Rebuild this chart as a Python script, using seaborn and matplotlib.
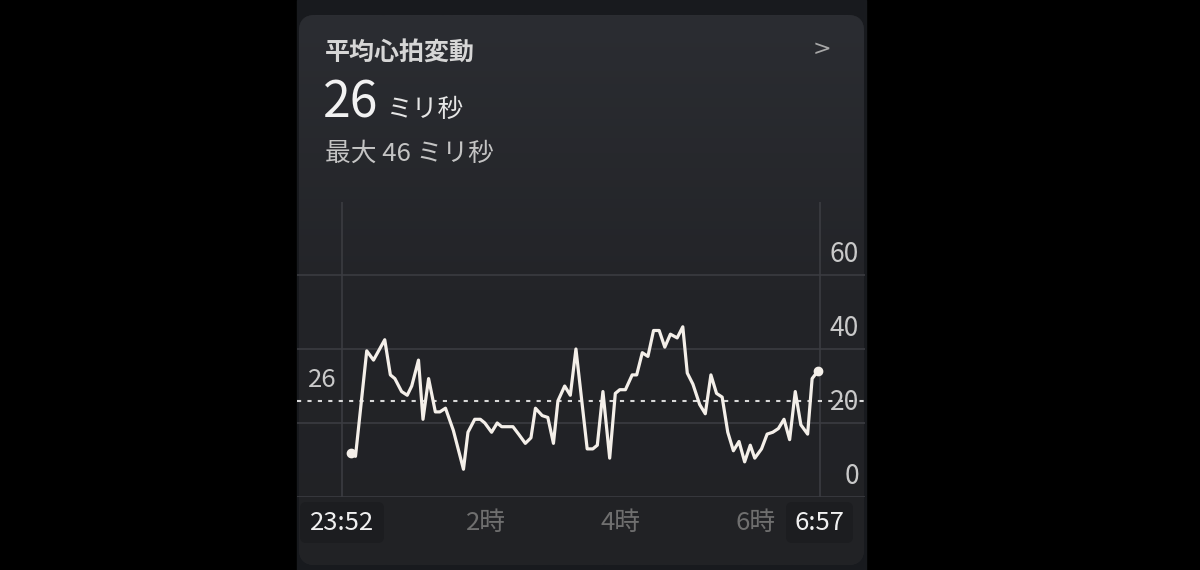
import numpy as np
import pandas as pd
import matplotlib.pyplot as plt
import seaborn as sns
from matplotlib.patches import FancyBboxPatch, Rectangle
from matplotlib.colors import LinearSegmentedColormap

# readings (clock time, ms)
times = ["00:00", "00:04", "00:14", "00:20", "00:30", "00:35", "00:39", "00:45", "00:50", "00:54",
         "01:00", "01:04", "01:09", "01:15", "01:19", "01:24", "01:31", "01:40", "01:44", "01:50",
         "01:55", "01:59", "02:05", "02:10", "02:14", "02:19", "02:24", "02:29", "02:35", "02:40",
         "02:44", "02:50", "02:55", "03:00", "03:04", "03:10", "03:15", "03:20", "03:30", "03:35",
         "03:39", "03:44", "03:50", "03:55", "03:59", "04:04", "04:10", "04:14", "04:19", "04:24",
         "04:29", "04:34", "04:39", "04:44", "04:50", "04:55", "04:59", "05:04", "05:10", "05:15",
         "05:20", "05:25", "05:30", "05:35", "05:40", "05:45", "05:50", "05:55", "05:59", "06:05",
         "06:10", "06:15", "06:20", "06:25", "06:30", "06:35", "06:40", "06:46", "06:50", "06:55"]
hrv = [12, 11, 39.5, 37, 42.5, 33, 32, 28.5, 27.5, 30,
       37, 21, 32, 23, 23, 24, 18, 7.5, 17.5, 21,
       21, 20, 17.5, 20, 19, 19, 19, 17, 14.5, 16,
       24, 22, 21.5, 14.5, 26, 30, 27.5, 40, 13, 13,
       14, 28.5, 10.5, 28, 29, 29, 33, 33, 39, 38,
       45, 45, 40.5, 44, 43, 46, 33.5, 30.5, 25, 22.5,
       33, 28, 27, 17.5, 12.5, 15, 9.5, 14, 10.5, 13,
       17, 17.5, 18.5, 21, 15.5, 28.5, 19.5, 17, 32, 34]

start_time = "23:52"
end_time = "6:57"
avg_hrv = 26
max_hrv = 46
y_ticks = [0, 20, 40, 60]
hour_ticks = ["2:00", "4:00", "6:00"]
hour_labels = ["2時", "4時", "6時"]


def minutes_since_start(t):
    h, m = map(int, t.split(":"))
    s_h, s_m = map(int, start_time.split(":"))
    mins = h * 60 + m - (s_h * 60 + s_m)
    if mins < 0:
        mins += 24 * 60
    return mins


df = pd.DataFrame({"t": [minutes_since_start(t) for t in times], "hrv": hrv})
t_end = minutes_since_start(end_time)

sns.set_theme(style="dark")
plt.rcParams["font.family"] = ["Noto Sans CJK JP", "DejaVu Sans"]

fig = plt.figure(figsize=(12, 5.7), dpi=100, facecolor="black")

# background layer in pixel coords
bg = fig.add_axes([0, 0, 1, 1])
bg.set_xlim(0, 1200)
bg.set_ylim(570, 0)
bg.axis("off")
bg.set_facecolor("black")
bg.add_patch(Rectangle((297, 0), 569, 570, color="#181a1e", zorder=0))
card = FancyBboxPatch((299, 15), 565, 550, boxstyle="round,pad=0,rounding_size=16",
                      facecolor="#25272b", edgecolor="none", zorder=1)
bg.add_patch(card)
grad = LinearSegmentedColormap.from_list("card", ["#2b2d32", "#232428", "#212225"])
img = bg.imshow(np.linspace(0, 1, 256).reshape(-1, 1), cmap=grad, aspect="auto",
                extent=(299, 864, 565, 15), zorder=1.5)
img.set_clip_path(card)

# label chips for start/end times
bg.add_patch(FancyBboxPatch((300, 502), 84, 41, boxstyle="round,pad=0,rounding_size=6",
                            facecolor="#1c1d20", edgecolor="none", zorder=2))
bg.add_patch(FancyBboxPatch((786, 502), 67, 41, boxstyle="round,pad=0,rounding_size=6",
                            facecolor="#1c1d20", edgecolor="none", zorder=2))

# header text
bg.text(325, 53, "平均心拍変動", color="#d6d6d6", fontsize=18, fontweight="bold",
        va="center", ha="left", zorder=3)
bg.text(831, 49, ">", color="#a8a8a8", fontsize=16, va="center", ha="right",
        family=["DejaVu Sans"], zorder=3)
bg.text(323, 104, str(avg_hrv), color="#f2f2f2", fontsize=36, va="center", ha="left", zorder=3)
bg.text(387, 110, "ミリ秒", color="#e6e6e6", fontsize=18.5, va="center", ha="left", zorder=3)
bg.text(325, 154, f"最大 {max_hrv} ミリ秒", color="#c4c4c4", fontsize=18.5, va="center",
        ha="left", zorder=3)

# chart axes (spans the card width)
px_per_min = (820 - 342) / t_end
ax = fig.add_axes([297 / 1200, 1 - 497 / 570, 568 / 1200, 295 / 570])
ax.set_facecolor("none")
ax.set_xlim(-45 / px_per_min, t_end + 45 / px_per_min)
y_top = 295 / 3.7
ax.set_ylim(0, y_top)
for s in ax.spines.values():
    s.set_visible(False)
ax.set_xticks([])
ax.set_yticks([])
ax.grid(False)

grid_c = "#3b3c41"
for v in y_ticks:
    ax.axhline(v, color=grid_c, lw=1.2, zorder=1)
ax.vlines([0, t_end], 0, y_top, color=grid_c, lw=1.2, zorder=1)
ax.axhline(avg_hrv, color="#d8d8d8", lw=1.5, ls=(0, (2, 3)), zorder=2)

sns.lineplot(data=df, x="t", y="hrv", ax=ax, color="#f4efe9", lw=2.3, zorder=3)
ax.plot(df["t"].iloc[[0, -1]], df["hrv"].iloc[[0, -1]], "o", color="#f4efe9",
        ms=6, zorder=4)
ax.set_xlabel("")
ax.set_ylabel("")

# y labels on the right, sitting above their gridlines
ytr = ax.get_yaxis_transform()
for v in y_ticks:
    ax.text(1 - 6 / 568, v + 21 / 3.7, str(v), transform=ytr, ha="right", va="center",
            color="#c9c9c9", fontsize=19)
ax.text(25 / 568, avg_hrv + 21 / 3.7, str(avg_hrv), transform=ytr, ha="center",
        va="center", color="#c9c9c9", fontsize=18.5)

# x labels
xtr = ax.get_xaxis_transform()
xl_y = -26 / 295
ax.text(0, xl_y, start_time, transform=xtr, ha="center", va="center", color="#f0f0f0",
        fontsize=18.5)
ax.text(t_end, xl_y, end_time, transform=xtr, ha="center", va="center", color="#f0f0f0",
        fontsize=18.5)
for t, lab in zip(hour_ticks, hour_labels):
    ax.text(minutes_since_start(t), xl_y, lab, transform=xtr, ha="center", va="center",
            color="#6f6f6f", fontsize=18.5)

fig.savefig("out.png", dpi=100, facecolor="black")
